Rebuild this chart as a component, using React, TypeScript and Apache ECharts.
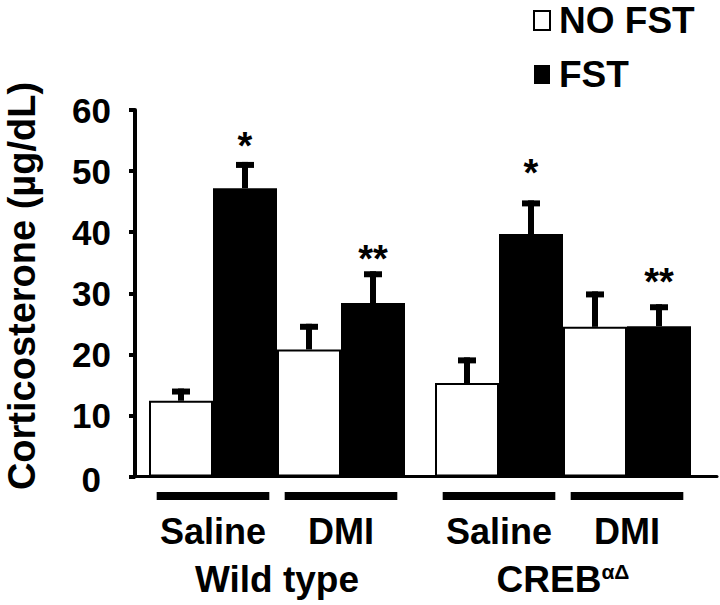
import React, { useEffect, useRef } from 'react';
import * as echarts from 'echarts';

const treatments = ['Saline', 'DMI'];
const genotypes = ['Wild type', 'CREB{sup|αΔ}'];
const seriesNames = ['NO FST', 'FST'];
const yTicks = [0, 10, 20, 30, 40, 50, 60];

const wtNoFst = [12.4, 20.8];
const wtNoFstErr = [2.0, 4.2];
const wtFst = [47.2, 28.4];
const wtFstErr = [4.3, 5.2];
const crebNoFst = [15.3, 24.5];
const crebNoFstErr = [4.2, 5.8];
const crebFst = [39.7, 24.6];
const crebFstErr = [5.5, 3.6];

const wtStars = ['*', '**'];
const wtStarY = [55.4, 36.9];
const crebStars = ['*', '**'];
const crebStarY = [51.0, 33.2];

const FONT = '"Liberation Sans", Arial, sans-serif';

function errorRender(side: number) {
  return (params: any, api: any) => {
    const i = api.value(0);
    const m = api.value(1);
    const e = api.value(2);
    const c = api.coord([i, m]);
    const t = api.coord([i, m + e]);
    const band = api.size([1, 0])[0];
    const x = c[0] + (side * band) / 4;
    return {
      type: 'group',
      children: [
        { type: 'rect', shape: { x: x - 3, y: t[1], width: 6, height: c[1] - t[1] }, style: { fill: '#000' } },
        { type: 'rect', shape: { x: x - 9, y: t[1], width: 18, height: 6 }, style: { fill: '#000' } },
      ],
    };
  };
}

function starRender(labels: string[]) {
  return (params: any, api: any) => {
    const i = api.value(0);
    const v = api.value(1);
    const p = api.coord([i, v]);
    const band = api.size([1, 0])[0];
    return {
      type: 'text',
      x: p[0] + band / 4,
      y: p[1] + 8,
      style: {
        text: labels[params.dataIndex],
        fill: '#000',
        font: `bold 38px ${FONT}`,
        textAlign: 'center',
        textVerticalAlign: 'middle',
      },
    };
  };
}

function underlineRender(params: any, api: any) {
  const i = api.value(0);
  const p = api.coord([i, 0]);
  const band = api.size([1, 0])[0];
  return {
    type: 'rect',
    shape: { x: p[0] - band * 0.44, y: p[1] + 15.5, width: band * 0.88, height: 8 },
    style: { fill: '#000' },
  };
}

function groupSeries(idx: number, noFst: number[], noFstErr: number[], fst: number[], fstErr: number[], stars: string[], starY: number[]) {
  const common = { xAxisIndex: idx, yAxisIndex: idx };
  return [
    {
      ...common,
      type: 'bar',
      name: seriesNames[0],
      data: noFst,
      barGap: '0%',
      barCategoryGap: '0%',
      itemStyle: { color: '#fff', borderColor: '#000', borderWidth: 2 },
    },
    {
      ...common,
      type: 'bar',
      name: seriesNames[1],
      data: fst,
      barGap: '0%',
      barCategoryGap: '0%',
      itemStyle: { color: '#000', borderColor: '#000', borderWidth: 0 },
    },
    {
      ...common,
      type: 'custom',
      name: 'err0',
      z: 3,
      renderItem: errorRender(-1),
      data: noFst.map((m, i) => [i, m, noFstErr[i]]),
    },
    {
      ...common,
      type: 'custom',
      name: 'err1',
      z: 3,
      renderItem: errorRender(1),
      data: fst.map((m, i) => [i, m, fstErr[i]]),
    },
    {
      ...common,
      type: 'custom',
      name: 'stars',
      z: 3,
      renderItem: starRender(stars),
      data: starY.map((v, i) => [i, v]),
    },
    {
      ...common,
      type: 'custom',
      name: 'underline',
      z: 3,
      clip: false,
      renderItem: underlineRender,
      data: treatments.map((_, i) => [i, 0]),
    },
  ];
}

export default function App() {
  const ref = useRef<HTMLDivElement>(null);
  useEffect(() => {
    document.body.style.margin = '0';
    const chart = echarts.init(ref.current!, null, { renderer: 'svg' });
    const hiddenY = {
      type: 'value',
      min: yTicks[0],
      max: yTicks[yTicks.length - 1],
      interval: 10,
      show: false,
    };
    const groupX = (gridIndex: number, name: string) => ({
      type: 'category',
      gridIndex,
      data: treatments,
      axisLine: { show: false },
      axisTick: { show: false },
      axisLabel: {
        interval: 0,
        margin: 37,
        color: '#000',
        fontSize: 36,
        fontWeight: 'bold',
        fontFamily: FONT,
      },
      name,
      nameLocation: 'middle',
      nameGap: 84,
      nameTextStyle: {
        color: '#000',
        fontSize: 37,
        fontWeight: 'bold',
        fontFamily: FONT,
        verticalAlign: 'top',
        rich: {
          sup: {
            fontSize: 21,
            fontWeight: 'bold',
            fontFamily: FONT,
            color: '#000',
            verticalAlign: 'top',
            padding: [0, 0, 12, 0],
          },
        },
      },
    });
    chart.setOption({
      animation: false,
      backgroundColor: '#fff',
      textStyle: { fontFamily: FONT },
      legend: {
        data: seriesNames,
        orient: 'vertical',
        left: 528,
        top: -3,
        icon: 'rect',
        itemWidth: 16,
        itemHeight: 19,
        itemGap: 17,
        textStyle: {
          color: '#000',
          fontSize: 37,
          lineHeight: 30,
          fontWeight: 'bold',
          fontFamily: FONT,
          padding: [0, 0, 0, 4],
        },
        selectedMode: false,
      },
      graphic: [
        {
          type: 'text',
          x: 22,
          y: 286,
          rotation: Math.PI / 2,
          style: {
            text: 'Corticosterone (µg/dL)',
            fill: '#000',
            font: `bold 38px ${FONT}`,
            textAlign: 'center',
            textVerticalAlign: 'middle',
          },
        },
      ],
      grid: [
        { left: 135, right: 3, top: 110, bottom: 128.5 },
        { left: 149, width: 256, top: 110, bottom: 128.5 },
        { left: 435, width: 256, top: 110, bottom: 128.5 },
      ],
      xAxis: [
        {
          type: 'value',
          gridIndex: 0,
          min: 0,
          max: 1,
          axisLine: { show: true, lineStyle: { color: '#000', width: 3 } },
          axisTick: { show: false },
          axisLabel: { show: false },
          splitLine: { show: false },
        },
        groupX(1, genotypes[0]),
        groupX(2, genotypes[1]),
      ],
      yAxis: [
        {
          type: 'value',
          gridIndex: 0,
          min: yTicks[0],
          max: yTicks[yTicks.length - 1],
          interval: 10,
          axisLine: { show: true, lineStyle: { color: '#000', width: 4 } },
          axisTick: { show: true, length: 6, lineStyle: { color: '#000', width: 4 } },
          splitLine: { show: false },
          axisLabel: {
            margin: 24,
            color: '#000',
            fontSize: 35,
            fontWeight: 'bold',
            fontFamily: FONT,
            formatter: (v: number) => (v === 0 ? '{z|0}' : String(v)),
            rich: {
              z: {
                fontSize: 35,
                fontWeight: 'bold',
                fontFamily: FONT,
                color: '#000',
                padding: [6, 10, 0, 0],
              },
            },
          },
        },
        { ...hiddenY, gridIndex: 1 },
        { ...hiddenY, gridIndex: 2 },
      ],
      series: [
        ...groupSeries(1, wtNoFst, wtNoFstErr, wtFst, wtFstErr, wtStars, wtStarY),
        ...groupSeries(2, crebNoFst, crebNoFstErr, crebFst, crebFstErr, crebStars, crebStarY),
      ],
    });
    return () => chart.dispose();
  }, []);
  return <div ref={ref} style={{ width: 720, height: 605 }} />;
}
